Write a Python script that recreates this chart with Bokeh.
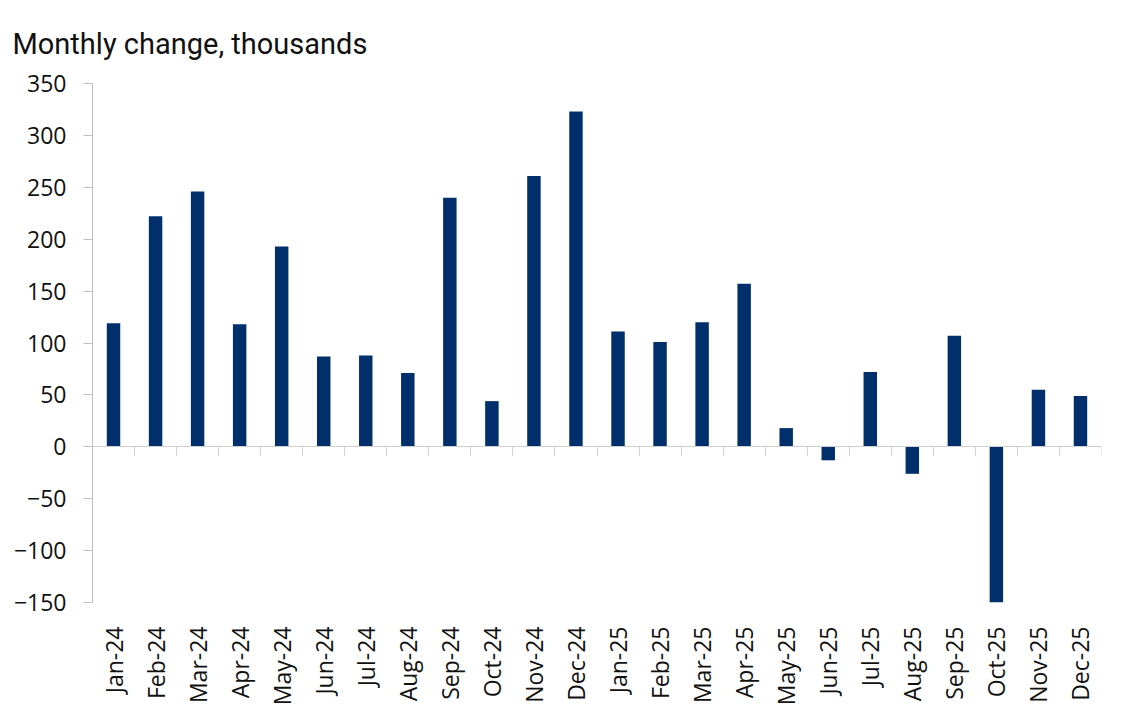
from bokeh.plotting import figure
from bokeh.models import ColumnDataSource, Range1d, FixedTicker, LinearAxis
from bokeh.embed import file_html
from bokeh.resources import INLINE
import math

months = ["Jan-24", "Feb-24", "Mar-24", "Apr-24", "May-24", "Jun-24", "Jul-24", "Aug-24",
          "Sep-24", "Oct-24", "Nov-24", "Dec-24", "Jan-25", "Feb-25", "Mar-25", "Apr-25",
          "May-25", "Jun-25", "Jul-25", "Aug-25", "Sep-25", "Oct-25", "Nov-25", "Dec-25"]
values = [119, 222, 246, 118, 193, 87, 88, 71, 240, 44, 261, 323,
          111, 101, 120, 157, 18, -13, 72, -26, 107, -150, 55, 49]
y_ticks = [-150, -100, -50, 0, 50, 100, 150, 200, 250, 300, 350]
title_text = "Monthly change, thousands"

n = len(months)
centers = [i + 0.5 for i in range(n)]
boundaries = list(range(n + 1))

src = ColumnDataSource(dict(x=centers, top=values, month=months))

p = figure(width=1115, height=708, output_backend="svg", toolbar_location=None,
           x_range=Range1d(0, n), y_range=Range1d(y_ticks[0], y_ticks[-1]),
           min_border_left=92, min_border_right=14, min_border_bottom=101, min_border_top=83,
           title=title_text)

p.vbar(x="x", top="top", bottom=0, width=0.32, source=src,
       fill_color="#002F6C", line_color=None)

p.title.text_font = "Roboto"
p.title.text_font_size = "29px"
p.title.text_font_style = "normal"
p.title.text_color = "#111111"
p.title.align = "left"
p.title.offset = -80
p.title.standoff = 46

p.grid.visible = False
p.outline_line_color = None
p.background_fill_color = "white"
p.border_fill_color = "white"

# y axis
ya = p.yaxis[0]
ya.ticker = FixedTicker(ticks=y_ticks)
ya.axis_line_color = "#bfbfbf"
ya.major_tick_line_color = "#bfbfbf"
ya.major_tick_out = 9
ya.major_tick_in = 0
ya.minor_tick_line_color = None
ya.major_label_standoff = 17
ya.major_label_text_font = "Open Sans"
ya.major_label_text_font_size = "23px"
ya.major_label_text_color = "#111111"

# month label axis
xa = p.xaxis[0]
xa.ticker = FixedTicker(ticks=centers)
xa.major_label_overrides = {c: m for c, m in zip(centers, months)}
xa.axis_line_color = None
xa.major_tick_line_color = None
xa.minor_tick_line_color = None
xa.major_label_orientation = math.pi / 2
xa.major_label_standoff = 18
xa.major_label_text_font = "Open Sans"
xa.major_label_text_font_size = "23px"
xa.major_label_text_color = "#111111"

# zero line axis with boundary ticks
za = LinearAxis(fixed_location=0, ticker=FixedTicker(ticks=boundaries))
za.axis_line_color = "#d0d0d0"
za.major_tick_line_color = "#d0d0d0"
za.major_tick_out = 9
za.major_tick_in = 0
za.minor_tick_line_color = None
za.major_label_text_font_size = "0px"
za.major_label_text_color = None
p.add_layout(za, "below")

open("out.html", "w").write(file_html(p, INLINE))
